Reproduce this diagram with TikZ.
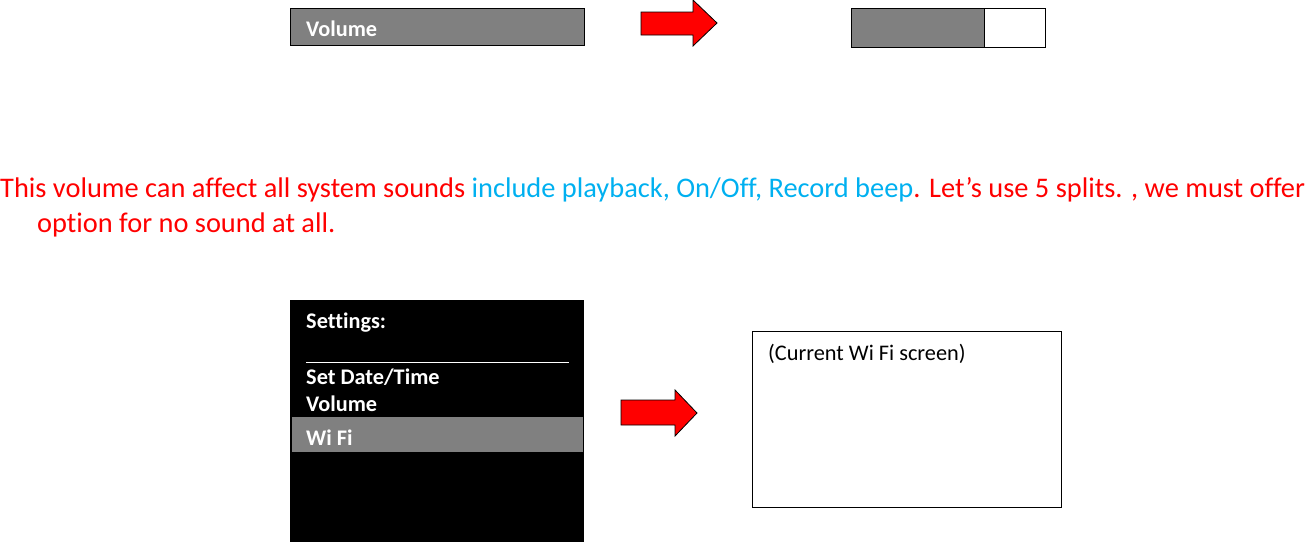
\documentclass[tikz,border=0pt]{standalone}
\usepackage{fontspec}
\setmainfont[Ligatures={NoCommon}]{Carlito}
\definecolor{gr}{RGB}{128,128,128}
\definecolor{bl}{RGB}{0,176,240}
\begin{document}
\begin{tikzpicture}[x=1pt,y=-1pt,
  lbl/.style={anchor=west,inner sep=0,font=\fontsize{22.3}{26}\selectfont\bfseries,text=white},
  redarrow/.style={fill=red,draw=black,line width=0.8pt,line join=miter}]
\useasboundingbox (0,0) rectangle (1313,542);
% top
\node[draw=black,fill=gr,line width=1.2pt,minimum width=294pt,minimum height=37pt,anchor=north west,inner sep=0] (vol) at (290,8) {};
\node[lbl] (voltxt) at (306,29) {Volume};
\draw[redarrow] (641,12) -- (693,12) -- (693,0) -- (717,23) -- (693,46) -- (693,35) -- (641,35) -- cycle;
\fill[gr] (851,8) rectangle (984,47);
\node[draw=black,line width=1.2pt,minimum width=194pt,minimum height=39pt,anchor=north west,inner sep=0] (slider) at (851,8) {};
\draw[line width=1pt] (984,8) -- (984,47);
% text
\node[anchor=west,inner sep=0,font=\fontsize{28.4}{33}\selectfont,text=red] (t1) at (0,190) {This volume can affect all system sounds \textcolor{bl}{include playback, On/Off, Record beep}. Let’s use 5 splits. , we must offer};
\node[anchor=west,inner sep=0,font=\fontsize{28.4}{33}\selectfont,text=red] (t2) at (37,225) {option for no sound at all.};
% bottom
\node[fill=black,minimum width=294pt,minimum height=242pt,anchor=north west,inner sep=0] (set) at (290,300) {};
\node[lbl] (s1) at (306,323) {Settings:};
\draw[white,line width=0.8pt] (306,362) -- (569,362);
\node[lbl] (s2) at (306,377) {Set Date/Time};
\node[lbl] (s3) at (306,404) {Volume};
\fill[gr] (292,417) rectangle (583,452);
\node[lbl] (s4) at (306,438) {Wi Fi};
\draw[redarrow] (621,400) -- (675,400) -- (675,390) -- (697,413) -- (675,436) -- (675,425) -- (621,425) -- cycle;
\node[draw=black,line width=1.2pt,minimum width=309pt,minimum height=176pt,anchor=north west,inner sep=0] (wifi) at (752,331) {};
\node[anchor=west,inner sep=0,font=\fontsize{22.3}{26}\selectfont] (wt) at (768,354) {(Current Wi Fi screen)};
\end{tikzpicture}
\end{document}
